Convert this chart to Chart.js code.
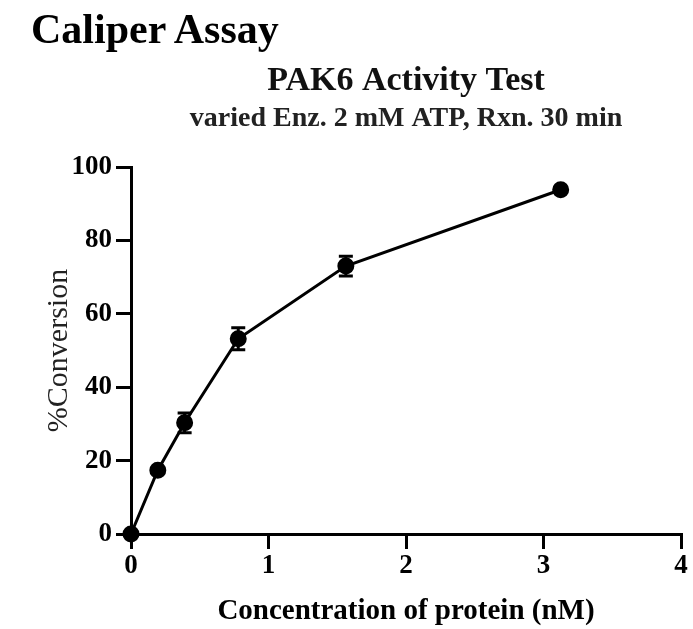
<!DOCTYPE html>
<html>
<head>
<meta charset="utf-8">
<script src="https://cdn.jsdelivr.net/npm/chart.js@4.4.1/dist/chart.umd.min.js"></script>
<style>
  html, body { margin: 0; padding: 0; background: #fff; }
  #wrap { position: relative; width: 693px; height: 629px; }
  #head { position: absolute; left: 31px; top: 8px; font: bold 42px/1 "Liberation Serif", serif; color: #000; }
</style>
</head>
<body>
<div id="wrap">
  <div id="head">Caliper Assay</div>
  <canvas id="chart" width="693" height="629"></canvas>
</div>
<script>
// protein concentration (nM) vs % conversion, mean and error
var conc = [0, 0.195, 0.39, 0.78, 1.5625, 3.125];
var conversion = [0, 17.4, 30.3, 53.2, 73.0, 93.8];
var errors = [0, 0, 2.7, 3.0, 2.7, 0];
var xTicks = [0, 1, 2, 3, 4];
var yTicks = [0, 20, 40, 60, 80, 100];

var serif = '"Liberation Serif", "Times New Roman", serif';

// little plugin for the error bars, uses the chart scales
var errorBars = {
    id: 'errorBars',
    afterDatasetsDraw: function (chart) {
        var ctx = chart.ctx;
        var xs = chart.scales.x, ys = chart.scales.y;
        ctx.save();
        ctx.strokeStyle = '#000';
        ctx.lineWidth = 3;
        for (var i = 0; i < conc.length; i++) {
            if (!errors[i]) continue;
            var px = xs.getPixelForValue(conc[i]);
            var top = ys.getPixelForValue(conversion[i] + errors[i]);
            var bot = ys.getPixelForValue(conversion[i] - errors[i]);
            ctx.beginPath();
            ctx.moveTo(px, top); ctx.lineTo(px, bot);
            ctx.moveTo(px - 7, top); ctx.lineTo(px + 7, top);
            ctx.moveTo(px - 7, bot); ctx.lineTo(px + 7, bot);
            ctx.stroke();
        }
        ctx.restore();
    }
};

var points = conc.map(function (c, i) { return {x: c, y: conversion[i]}; });

new Chart(document.getElementById('chart').getContext('2d'), {
    type: 'scatter',
    data: {
        datasets: [{
            label: 'PAK6',
            data: points,
            showLine: true,
            borderColor: '#000',
            backgroundColor: '#000',
            borderWidth: 3,
            pointRadius: 7,
            pointHoverRadius: 7,
            clip: false
        }]
    },
    plugins: [errorBars],
    options: {
        responsive: false,
        animation: false,
        layout: { padding: { top: 64, right: 12, left: 0, bottom: 0 } },
        plugins: {
            legend: { display: false },
            tooltip: { enabled: false },
            title: {
                display: true,
                fullSize: false,
                text: 'PAK6 Activity Test',
                color: '#111',
                font: { family: serif, size: 34, weight: 'bold', lineHeight: 1 },
                padding: { top: 0, bottom: 7 }
            },
            subtitle: {
                display: true,
                fullSize: false,
                text: 'varied Enz. 2 mM ATP, Rxn. 30 min',
                color: '#222',
                font: { family: serif, size: 28, weight: 'bold', lineHeight: 1 },
                padding: { top: 0, bottom: 34 }
            }
        },
        scales: {
            x: {
                type: 'linear',
                min: 0, max: 4,
                afterBuildTicks: function (s) { s.ticks = xTicks.map(function (v) { return {value: v}; }); },
                border: { color: '#000', width: 3 },
                grid: { drawOnChartArea: false, color: '#000', lineWidth: 3, tickLength: 15 },
                ticks: { color: '#000', font: { family: serif, size: 27, weight: 'bold' }, padding: 1, maxRotation: 0 },
                title: {
                    display: true,
                    text: 'Concentration of protein (nM)',
                    color: '#000',
                    font: { family: serif, size: 29, weight: 'bold' },
                    padding: { top: 10, bottom: 0 }
                },
                afterFit: function (s) { s.height = 95; }
            },
            y: {
                type: 'linear',
                min: 0, max: 100,
                afterBuildTicks: function (s) { s.ticks = yTicks.map(function (v) { return {value: v}; }); },
                border: { color: '#000', width: 3 },
                grid: { drawOnChartArea: false, color: '#000', lineWidth: 3, tickLength: 15 },
                ticks: { color: '#000', font: { family: serif, size: 27, weight: 'bold' }, padding: 4 },
                title: {
                    display: true,
                    text: '%Conversion',
                    color: '#222',
                    font: { family: serif, size: 30 },
                    padding: { top: 41, bottom: 0 }
                },
                afterFit: function (s) { s.width = 131; }
            }
        }
    }
});
</script>
</body>
</html>
